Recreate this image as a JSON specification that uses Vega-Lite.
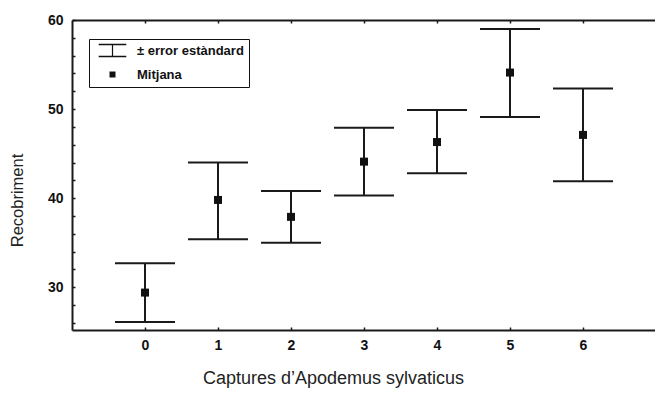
{
  "$schema": "https://vega.github.io/schema/vega-lite/v6.json",
  "width": 584,
  "height": 310,
  "autosize": {"type": "none"},
  "padding": {"left": 72, "top": 20, "right": 0, "bottom": 64},
  "background": "white",
  "config": {
    "view": {"stroke": null},
    "font": "Liberation Sans",
    "axis": {
      "grid": false,
      "domainColor": "#1a1a1a",
      "domainWidth": 2,
      "tickColor": "#1a1a1a",
      "tickWidth": 1.5,
      "tickSize": -3,
      "labelFont": "Liberation Sans",
      "labelFontWeight": "bold",
      "labelFontSize": 14,
      "labelColor": "#111",
      "titleFont": "Liberation Sans",
      "titleFontWeight": "normal",
      "titleFontSize": 16,
      "titleColor": "#222"
    }
  },
  "data": {
    "values": [
      {"k": 0, "mean": 29.4, "lo": 26.1, "hi": 32.7},
      {"k": 1, "mean": 39.8, "lo": 35.4, "hi": 44.0},
      {"k": 2, "mean": 37.9, "lo": 35.0, "hi": 40.8},
      {"k": 3, "mean": 44.1, "lo": 40.3, "hi": 47.9},
      {"k": 4, "mean": 46.3, "lo": 42.8, "hi": 49.9},
      {"k": 5, "mean": 54.1, "lo": 49.1, "hi": 59.0},
      {"k": 6, "mean": 47.1, "lo": 41.9, "hi": 52.3}
    ]
  },
  "resolve": {"axis": {"x": "independent", "y": "independent"}},
  "layer": [
    {
      "mark": {"type": "rule", "color": "#1a1a1a", "strokeWidth": 2},
      "encoding": {
        "x": {
          "field": "k", "type": "quantitative",
          "scale": {"domain": [-1, 7], "nice": false, "zero": false},
          "axis": {
            "orient": "bottom",
            "values": [0, 1, 2, 3, 4, 5, 6],
            "labelPadding": 11,
            "title": "Captures d’Apodemus sylvaticus",
            "titleFontSize": 18,
            "titlePadding": 17,
            "titleX": 261,
            "titleAnchor": "middle"
          }
        },
        "y": {
          "field": "lo", "type": "quantitative",
          "scale": {"domain": [25.2, 60], "nice": false, "zero": false},
          "axis": {
            "orient": "left",
            "values": [26, 28, 30, 32, 34, 36, 38, 40, 42, 44, 46, 48, 50, 52, 54, 56, 58, 60],
            "labelExpr": "datum.value % 10 === 0 ? datum.label : ''",
            "labelPadding": 12,
            "title": "Recobriment",
            "titleFontSize": 16.5,
            "titlePadding": 22,
            "titleY": 180
          }
        },
        "y2": {"field": "hi"}
      }
    },
    {
      "mark": {"type": "tick", "orient": "horizontal", "color": "#1a1a1a", "opacity": 1, "size": 60, "thickness": 2},
      "encoding": {
        "x": {
          "field": "k", "type": "quantitative",
          "axis": {"orient": "top", "values": [0, 1, 2, 3, 4, 5, 6], "labels": false, "title": null}
        },
        "y": {"field": "lo", "type": "quantitative", "axis": null}
      }
    },
    {
      "mark": {"type": "tick", "orient": "horizontal", "color": "#1a1a1a", "opacity": 1, "size": 60, "thickness": 2},
      "encoding": {
        "x": {"field": "k", "type": "quantitative", "axis": null},
        "y": {"field": "hi", "type": "quantitative", "axis": null}
      }
    },
    {
      "mark": {"type": "point", "filled": true, "color": "#111", "size": 64, "opacity": 1},
      "encoding": {
        "x": {"field": "k", "type": "quantitative", "axis": null},
        "y": {"field": "mean", "type": "quantitative", "axis": null},
        "shape": {
          "datum": "Mitjana",
          "scale": {
            "domain": ["± error estàndard", "Mitjana"],
            "range": ["M-4.6,-2.25L4.6,-2.25L4.6,-1.75L0.2,-1.75L0.2,1.75L4.6,1.75L4.6,2.25L-4.6,2.25L-4.6,1.75L-0.2,1.75L-0.2,-1.75L-4.6,-1.75Z", "square"]
          },
          "legend": {
            "title": null,
            "orient": "none",
            "legendX": 17,
            "legendY": 19,
            "padding": 5,
            "strokeColor": "#111",
            "fillColor": "white",
            "symbolSize": 36,
            "symbolOffset": 12,
            "symbolFillColor": "#111",
            "symbolStrokeColor": "#111",
            "symbolStrokeWidth": 0.5,
            "labelOffset": 18,
            "labelFont": "Liberation Sans",
            "labelFontWeight": "bold",
            "labelFontSize": 13,
            "labelColor": "#111",
            "rowPadding": 9,
            "encode": {
              "legend": {"update": {"strokeWidth": {"value": 2}}},
              "symbols": {"update": {"stroke": {"value": "#111"}, "strokeWidth": {"value": 0.5}, "fill": {"value": "#111"}, "opacity": {"value": 1}}}
            }
          }
        }
      }
    }
  ]
}
